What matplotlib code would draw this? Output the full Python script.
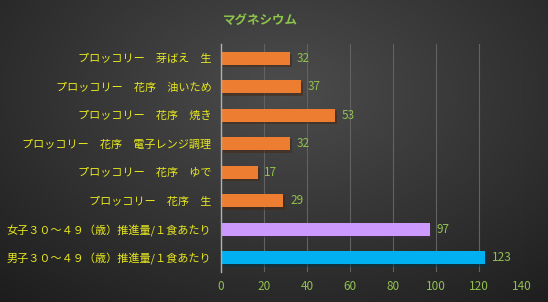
import numpy as np
import matplotlib
matplotlib.use("Agg")
import matplotlib.pyplot as plt
import matplotlib.patheffects as pe

plt.rcParams['font.family'] = ['Noto Sans CJK JP', 'DejaVu Sans']

title = "マグネシウム"
categories = [
    "プロッコリー　芽ばえ　生",
    "プロッコリー　花序　油いため",
    "プロッコリー　花序　焼き",
    "プロッコリー　花序　電子レンジ調理",
    "プロッコリー　花序　ゆで",
    "プロッコリー　花序　生",
    "女子３０～４９（歳）推進量/１食あたり",
    "男子３０～４９（歳）推進量/１食あたり",
]
values = [32, 37, 53, 32, 17, 29, 97, 123]
bar_colors = ["#ED7D31"] * 6 + ["#CC99FF", "#00B0F0"]
xticks = [0, 20, 40, 60, 80, 100, 120, 140]

W, H = 548, 302
fig = plt.figure(figsize=(W / 100, H / 100), dpi=100)

# background gradient
bg = fig.add_axes([0, 0, 1, 1])
yy, xx = np.mgrid[0:1:200j, 0:1:300j]
r = np.sqrt(((xx - 0.52) / 0.75) ** 2 + ((yy - 0.3) / 0.9) ** 2)
lum = 0.30 - 0.18 * np.clip(r, 0, 1.2)
img = np.dstack([lum, lum, lum])
bg.imshow(img, extent=[0, 1, 0, 1], aspect='auto', origin='upper')
bg.axis('off')

ax = fig.add_axes([221 / W, 1 - 272 / H, (522 - 221) / W, (272 - 44) / H])
ax.patch.set_alpha(0)
y = np.arange(len(categories))
bars = ax.barh(y, values, height=0.47, color=bar_colors, zorder=3)
for b in bars:
    b.set_path_effects([pe.SimplePatchShadow(offset=(1.5, -1.5), alpha=0.5), pe.Normal()])
ax.set_ylim(len(categories) - 0.5, -0.5)
ax.set_xlim(0, 140)
ax.set_xticks(xticks)
ax.set_yticks(y)
ax.set_yticklabels(categories, color="#E8E820", fontsize=8)
ax.tick_params(axis='x', colors="#92C050", labelsize=8.5, length=0, pad=6)
ax.tick_params(axis='y', length=0, pad=7)
for lab in ax.get_xticklabels():
    lab.set_color("#92C050")
ax.grid(axis='x', color="#626262", linewidth=0.8, zorder=0)
for s in ['top', 'right', 'bottom']:
    ax.spines[s].set_visible(False)
ax.spines['left'].set_color("#b0b0b0")
ax.spines['left'].set_linewidth(1.0)
ax.spines['left'].set_zorder(4)

for yi, v in zip(y, values):
    ax.text(v + 3.2, yi, str(v), va='center', ha='left', color="#92C050", fontsize=8.5)

fig.text(260 / W, 1 - 20 / H, title, ha='center', va='center', color="#8CC34A",
         fontsize=9, fontweight='bold')

fig.savefig("out.png", dpi=100)
